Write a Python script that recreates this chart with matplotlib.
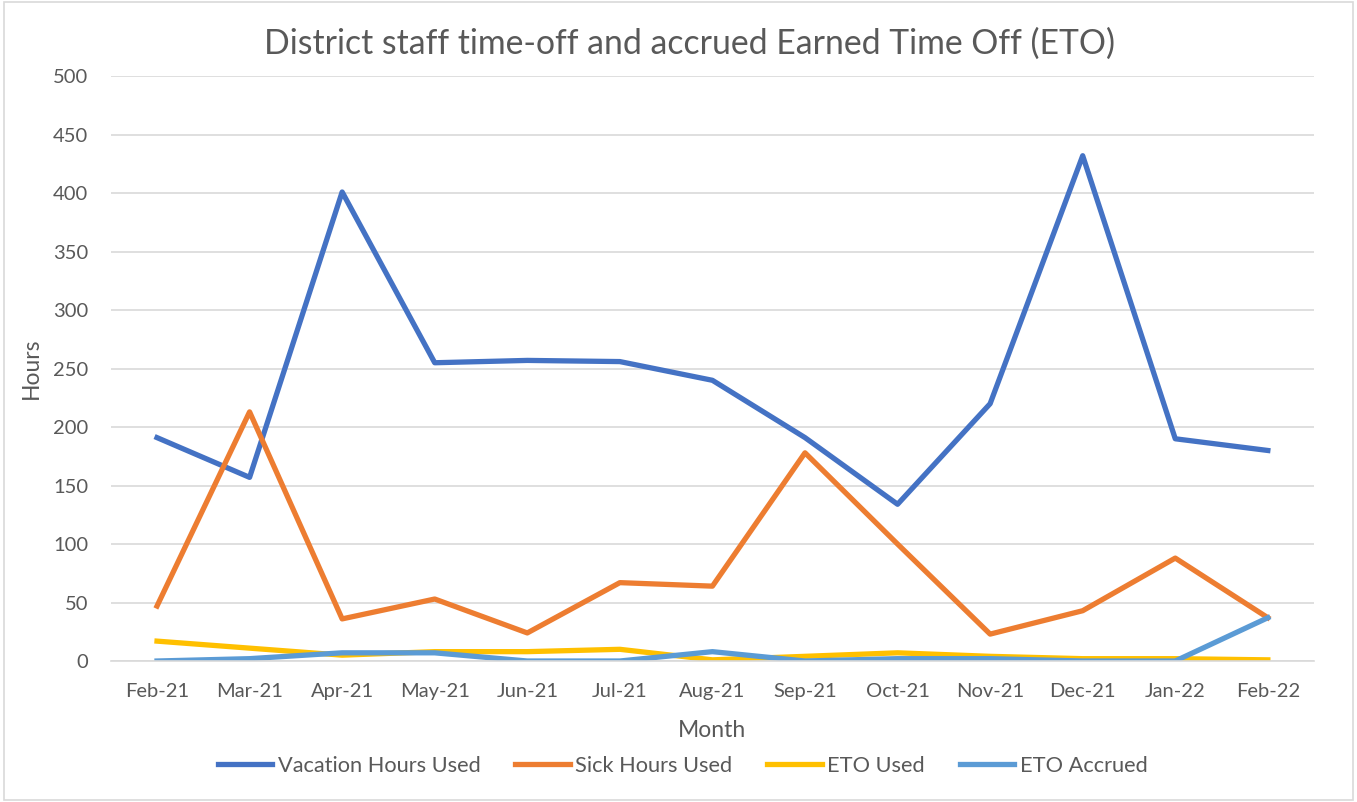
import matplotlib.pyplot as plt
from matplotlib.patches import Rectangle

# data
months = ['Feb-21', 'Mar-21', 'Apr-21', 'May-21', 'Jun-21', 'Jul-21', 'Aug-21',
          'Sep-21', 'Oct-21', 'Nov-21', 'Dec-21', 'Jan-22', 'Feb-22']
vacation = [191, 157, 401, 255, 257, 256, 240, 191, 134, 220, 432, 190, 180]
sick = [47, 213, 36, 53, 24, 67, 64, 178, 100, 23, 43, 88, 37]
eto_used = [17, 11, 5, 8, 8, 10, 1, 4, 7, 4, 2, 2, 1]
eto_accrued = [0, 2, 7, 7, 0, 0, 8, 0, 2, 2, 0, 0, 37]
y_ticks = [0, 50, 100, 150, 200, 250, 300, 350, 400, 450, 500]

plt.rcParams['font.family'] = ['Lato', 'DejaVu Sans']
txt = '#595959'

fig = plt.figure(figsize=(13.57, 8.02), dpi=100)
ax = fig.add_axes([0.0816, 0.1758, 0.8868, 0.7292])

x = range(len(months))
ax.plot(x, vacation, color='#4472C4', lw=3.8, label='Vacation Hours Used', solid_joinstyle='round')
ax.plot(x, sick, color='#ED7D31', lw=3.8, label='Sick Hours Used', solid_joinstyle='round')
ax.plot(x, eto_used, color='#FFC000', lw=3.8, label='ETO Used', solid_joinstyle='round')
ax.plot(x, eto_accrued, color='#5B9BD5', lw=3.8, label='ETO Accrued', solid_joinstyle='round')

ax.set_xlim(-0.5, len(months) - 0.5)
ax.set_ylim(0, 500)
ax.set_yticks(y_ticks)
ax.set_xticks(list(x))
ax.set_xticklabels(months)
ax.tick_params(axis='both', length=0, labelsize=14.5, colors=txt)
ax.tick_params(axis='y', pad=16)
ax.tick_params(axis='x', pad=16)
ax.grid(axis='y', color='#D9D9D9', lw=1.2)
ax.set_axisbelow(True)
for s in ['top', 'right', 'left']:
    ax.spines[s].set_visible(False)
ax.spines['bottom'].set_color('#D9D9D9')
ax.spines['bottom'].set_linewidth(1.2)

ax.set_xlabel('Month', fontsize=16.5, color=txt, labelpad=14)
ax.set_ylabel('Hours', fontsize=16.5, color=txt, labelpad=8)
fig.text(0.508, 0.945, 'District staff time-off and accrued Earned Time Off (ETO)',
         ha='center', va='center', fontsize=24.3, color=txt)

fig.legend(loc='center', bbox_to_anchor=(0.503, 0.045), ncol=4, frameon=False,
           fontsize=15.7, labelcolor=txt, handlelength=2.5, handletextpad=0.25,
           columnspacing=1.6)

fig.patches.append(Rectangle((0.003, 0.003), 0.994, 0.994, transform=fig.transFigure,
                             fill=False, edgecolor='#D9D9D9', lw=1.2))

fig.savefig('out.png', dpi=100)
